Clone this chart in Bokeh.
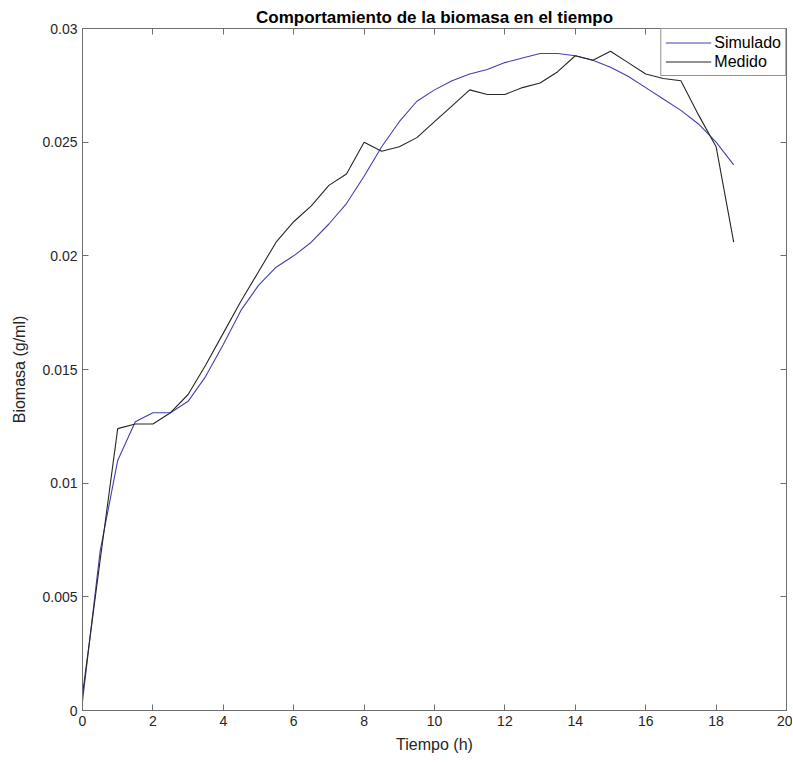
from bokeh.plotting import figure
from bokeh.models import LinearAxis, FixedTicker, Range1d, Legend, LegendItem
from bokeh.embed import file_html
from bokeh.resources import INLINE

tiempo = [0, 0.5, 1, 1.5, 2, 2.5, 3, 3.5, 4, 4.5, 5, 5.5, 6, 6.5, 7, 7.5, 8, 8.5, 9,
          9.5, 10, 10.5, 11, 11.5, 12, 12.5, 13, 13.5, 14, 14.5, 15, 15.5, 16, 16.5,
          17, 17.5, 18, 18.5]
simulado = [0.0004, 0.0070, 0.0110, 0.0127, 0.0131, 0.0131, 0.0136, 0.0147, 0.0161,
            0.0176, 0.0187, 0.0195, 0.0200, 0.0206, 0.0214, 0.0223, 0.0235, 0.0248,
            0.0259, 0.0268, 0.0273, 0.0277, 0.0280, 0.0282, 0.0285, 0.0287, 0.0289,
            0.0289, 0.0288, 0.0286, 0.0283, 0.0279, 0.0274, 0.0269, 0.0264, 0.0258,
            0.0250, 0.0240]
medido = [0.0007, 0.0066, 0.0124, 0.0126, 0.0126, 0.0131, 0.0139, 0.0152, 0.0166,
          0.0180, 0.0193, 0.0206, 0.0215, 0.0222, 0.0231, 0.0236, 0.0250, 0.0246,
          0.0248, 0.0252, 0.0259, 0.0266, 0.0273, 0.0271, 0.0271, 0.0274, 0.0276,
          0.0281, 0.0288, 0.0286, 0.0290, 0.0285, 0.0280, 0.0278, 0.0277, 0.0262,
          0.0248, 0.0206]

x_ticks = [0, 2, 4, 6, 8, 10, 12, 14, 16, 18, 20]
y_ticks = [0, 0.005, 0.01, 0.015, 0.02, 0.025, 0.03]
y_tick_labels = ["0", "0.005", "0.01", "0.015", "0.02", "0.025", "0.03"]

FONT = "Liberation Sans"
AXIS_COLOR = "#6e6e6e"
TEXT_COLOR = "#262626"

p = figure(width=792, height=762, output_backend="svg", toolbar_location=None,
           x_range=Range1d(0, 20), y_range=Range1d(0, 0.03),
           x_axis_location=None, y_axis_location=None,
           min_border_left=82, min_border_right=6, min_border_top=28,
           min_border_bottom=52)
p.grid.visible = False
p.outline_line_color = AXIS_COLOR
p.background_fill_color = "white"
p.border_fill_color = "white"

p.title.text = "Comportamiento de la biomasa en el tiempo"
p.title.align = "center"
p.title.text_font = FONT
p.title.text_font_size = "17px"
p.title.text_font_style = "bold"
p.title.text_color = "black"
p.title.standoff = 4
p.title.offset = 0


def make_axis(ticks, overrides=None, show_labels=True):
    ax = LinearAxis(ticker=FixedTicker(ticks=ticks))
    ax.axis_line_color = AXIS_COLOR
    ax.major_tick_line_color = AXIS_COLOR
    ax.major_tick_in = 6
    ax.major_tick_out = 0
    ax.minor_tick_in = 0
    ax.minor_tick_out = 0
    ax.major_label_text_font = FONT
    ax.major_label_text_color = TEXT_COLOR
    ax.major_label_text_font_size = "14px"
    ax.major_label_standoff = 5
    ax.axis_label_text_font = FONT
    ax.axis_label_text_font_size = "16px"
    ax.axis_label_text_font_style = "normal"
    ax.axis_label_text_color = TEXT_COLOR
    if not show_labels:
        ax.major_label_overrides = {t: "" for t in ticks}
        ax.major_label_standoff = 0
    elif overrides:
        ax.major_label_overrides = overrides
    return ax


xb = make_axis(x_ticks)
xb.axis_label = "Tiempo (h)"
xb.axis_label_standoff = 7
p.add_layout(xb, "below")

yl = make_axis(y_ticks, {t: l for t, l in zip(y_ticks, y_tick_labels)})
yl.axis_label = "Biomasa (g/ml)"
yl.axis_label_standoff = 11
p.add_layout(yl, "left")

xt = make_axis(x_ticks, show_labels=False)
p.add_layout(xt, "above")
yr = make_axis(y_ticks, show_labels=False)
p.add_layout(yr, "right")

r_sim = p.line(tiempo, simulado, line_color="#4040b0", line_width=1.1)
r_med = p.line(tiempo, medido, line_color="#262626", line_width=1.1)

legend = Legend(items=[LegendItem(label="Simulado", renderers=[r_sim]),
                       LegendItem(label="Medido", renderers=[r_med])],
                location="top_right")
legend.margin = 0
legend.padding = 4
legend.spacing = 0
legend.label_text_font = FONT
legend.label_text_font_size = "16px"
legend.label_text_color = "black"
legend.label_standoff = 3
legend.label_height = 19
legend.glyph_width = 46
legend.glyph_height = 19
legend.border_line_color = TEXT_COLOR
legend.border_line_width = 1
legend.background_fill_alpha = 1
p.add_layout(legend)

open("out.html", "w").write(file_html(p, INLINE))
